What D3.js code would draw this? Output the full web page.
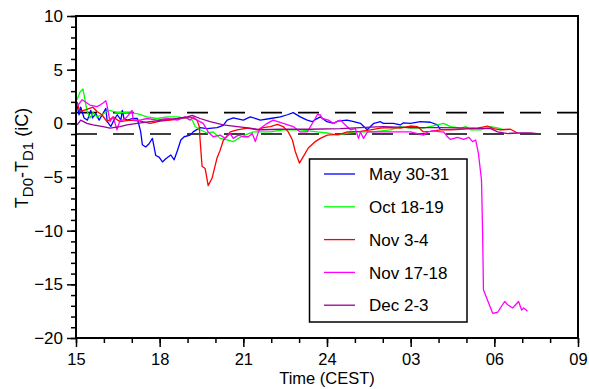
<!DOCTYPE html>
<html>
<head>
<meta charset="utf-8">
<script src="https://cdn.jsdelivr.net/npm/d3@7"></script>
<style>
  body { margin: 0; background: #fff; }
  svg text { font-family: "Liberation Sans", Arial, sans-serif; fill: #000; }
</style>
</head>
<body>
<div id="chart"></div>
<script>
// data: [hour since 00 of day 1 (15..33), T_D0 - T_D1]
const may3031 = [[15.04,1.7],[15.11,0.8],[15.17,1.5],[15.29,0.5],[15.41,0.3],[15.53,1.2],[15.59,0.5],[15.71,0.9],[15.83,0.3],[15.94,0.8],[16.07,1.4],[16.12,0.15],[16.25,-0.3],[16.36,0.3],[16.48,0.8],[16.61,0.3],[16.66,1.2],[16.72,0.45],[16.84,0.3],[17.02,0.45],[17.2,0.45],[17.32,-0.8],[17.38,-2.0],[17.5,-2.2],[17.62,-1.9],[17.74,-1.4],[17.86,-3.0],[17.98,-3.15],[18.1,-3.6],[18.22,-3.3],[18.4,-2.95],[18.52,-3.4],[18.64,-2.5],[18.76,-1.55],[18.88,-1.25],[19.09,-1.1],[19.2,-0.8],[19.45,-0.4],[19.7,-0.5],[20.06,-0.4],[20.28,-0.2],[20.42,0.3],[20.64,0.5],[21.0,0.3],[21.25,0.6],[21.5,0.4],[21.61,0.3],[21.97,0.45],[22.33,0.6],[22.58,0.8],[22.79,1.0],[23.04,0.6],[23.29,0.3],[23.47,0.15],[23.58,0.35],[23.76,0.6],[24.0,0.15],[24.24,0.0],[24.37,0.2],[24.72,0.3],[24.96,0.15],[25.2,0.0],[25.44,-0.6],[25.68,0.0],[25.92,0.15],[26.02,0.0],[26.38,0.0],[26.63,-0.15],[26.74,0.05],[26.99,0.0],[27.35,0.15],[27.71,0.1],[27.96,-0.15],[28.07,-0.6]]
const oct1819 = [[15.04,2.2],[15.14,2.9],[15.25,3.2],[15.39,1.2],[15.5,0.5],[15.61,1.0],[15.75,0.6],[15.93,0.8],[16.11,1.1],[16.22,1.2],[16.47,1.0],[16.83,1.0],[17.19,0.9],[17.55,0.6],[17.91,0.45],[18.27,0.6],[18.63,0.6],[18.99,0.45],[19.17,0.3],[19.27,-0.3],[19.45,-0.6],[19.7,-0.9],[19.92,-0.8],[20.17,-1.4],[20.42,-1.55],[20.64,-1.7],[20.89,-1.3],[21.14,-1.0],[21.36,-0.8],[21.61,-0.8],[21.97,-0.8],[22.43,-0.6],[23.04,-0.6],[23.65,-0.8],[24.01,-0.9],[24.37,-1.1],[24.73,-0.9],[25.09,-0.8],[25.66,-0.8],[26.27,-0.6],[26.63,-0.3],[26.99,-0.45],[27.46,-0.45],[27.96,-0.15],[28.18,0.0],[28.43,-0.3],[28.79,-0.45],[28.97,-0.3],[29.15,-0.6],[29.51,-0.6],[29.87,-0.3],[30.15,-0.45],[30.33,-0.6]]
const nov034 = [[15.04,2.0],[15.14,1.1],[15.39,1.3],[15.61,1.5],[15.75,1.1],[15.93,0.8],[16.11,0.15],[16.33,0.6],[16.58,0.15],[16.94,0.3],[17.3,0.2],[17.66,0.0],[18.02,0.2],[18.38,0.3],[18.73,0.45],[19.09,0.6],[19.34,0.3],[19.42,-0.3],[19.45,-1.55],[19.52,-4.0],[19.63,-4.2],[19.74,-5.8],[19.88,-5.1],[20.06,-3.2],[20.17,-2.5],[20.28,-1.6],[20.53,-0.8],[20.78,-0.6],[21.14,-0.45],[21.5,-0.6],[21.71,-0.4],[21.97,-0.3],[22.22,-0.1],[22.43,-0.3],[22.61,-0.8],[22.76,-1.55],[22.86,-2.6],[23.01,-3.7],[23.15,-3.1],[23.33,-2.3],[23.58,-1.7],[23.76,-1.4],[24.01,-1.1],[24.48,-1.0],[24.73,-0.8],[25.2,-0.75],[25.56,-0.6],[25.92,-0.45],[26.27,-0.4],[26.63,-0.45],[26.99,-0.25],[27.24,-0.3],[27.46,-0.8],[27.71,-0.75],[28.07,-0.6],[28.43,-0.6],[28.79,-0.55],[29.4,-0.45],[29.76,-0.25],[29.97,-0.5],[30.22,-0.6],[30.58,-0.55],[30.83,-0.9]]
const nov1718 = [[15.04,1.55],[15.22,2.2],[15.39,1.9],[15.5,1.7],[15.75,1.55],[15.86,1.7],[15.97,1.9],[16.07,2.1],[16.11,1.7],[16.22,0.15],[16.33,0.6],[16.47,-0.6],[16.58,0.3],[16.69,0.3],[16.83,0.6],[17.01,1.2],[17.05,0.3],[17.3,0.3],[17.55,0.45],[17.91,0.3],[18.27,0.45],[18.63,0.3],[18.91,0.6],[19.09,0.3],[19.2,0.6],[19.34,0.3],[19.56,0.0],[19.74,-0.8],[19.92,-1.25],[20.17,-1.1],[20.35,-1.4],[20.53,-0.95],[20.64,-1.4],[20.82,-1.1],[21.0,-1.25],[21.18,-1.25],[21.32,-0.95],[21.43,-1.7],[21.54,-0.8],[21.61,-0.45],[21.86,0.0],[22.07,0.3],[22.43,0.0],[22.79,-0.3],[23.04,-0.8],[23.29,-0.8],[23.51,0.15],[23.65,0.8],[23.76,0.8],[23.83,0.45],[24.05,0.3],[24.23,0.0],[24.48,0.3],[24.66,-0.15],[24.84,-0.6],[25.02,-0.5],[25.09,-1.1],[25.13,-1.4],[25.2,-0.8],[25.31,-1.4],[25.45,-0.8],[25.81,-0.8],[26.38,-0.8],[26.99,-0.8],[27.46,-1.1],[27.6,-0.8],[27.82,-0.7],[28.07,-0.8],[28.18,-0.8],[28.32,-1.25],[28.43,-1.5],[28.68,-1.3],[28.9,-1.5],[29.08,-1.3],[29.22,-1.7],[29.33,-1.55],[29.43,-2.8],[29.54,-5.3],[29.58,-10.2],[29.61,-15.5],[29.76,-16.5],[29.94,-17.7],[30.12,-17.6],[30.22,-17.2],[30.37,-16.6],[30.48,-16.9],[30.66,-17.2],[30.76,-16.9],[30.87,-16.6],[30.98,-17.4],[31.05,-17.2],[31.19,-17.5]]
const dec023 = [[15.04,-0.15],[15.17,0.3],[15.39,0.0],[15.61,-0.15],[15.97,-0.3],[16.22,-0.45],[16.58,-0.3],[16.83,-0.15],[17.19,0.0],[17.66,0.15],[18.12,0.3],[18.63,0.45],[18.99,0.6],[19.17,0.75],[19.45,0.45],[19.81,0.15],[20.28,-0.15],[20.78,-0.3],[21.25,-0.45],[21.61,-0.6],[22.33,-0.55],[23.4,-0.55],[24.48,-0.5],[25.56,-0.35],[26.02,-0.3],[26.99,-0.4],[28.07,-0.4],[29.15,-0.45],[29.87,-0.5],[30.12,-0.8],[30.48,-0.95],[30.83,-0.9],[31.3,-0.9],[31.55,-0.95]]

const seriesNames = ['May 30-31', 'Oct 18-19', 'Nov 3-4', 'Nov 17-18', 'Dec 2-3']
const seriesData = [may3031, oct1819, nov034, nov1718, dec023]
const seriesColors = ['#0000ff', '#00ff00', '#ff0000', '#ff00ff', '#990099']

const xMajorTicks = [15, 18, 21, 24, 27, 30, 33]
const yMajorTicks = [-20, -15, -10, -5, 0, 5, 10]
const bandLines = [1, -1]

// SIZES
const W = 589, H = 389
const margin = { top: 16, right: 11, bottom: 51, left: 76 }
const width = W - margin.left - margin.right
const height = H - margin.top - margin.bottom

const svg = d3.select('#chart').append('svg')
  .attr('width', W)
  .attr('height', H)

const x = d3.scaleLinear().domain([15, 33]).range([margin.left, margin.left + width])
const y = d3.scaleLinear().domain([-20, 10]).range([margin.top + height, margin.top])

// 24 stays 24, next-day hours are zero padded
const fmtHour = h => {
  const v = h % 24 === 0 ? 24 : h % 24
  return String(v).padStart(2, '0')
}

// MINOR TICKS
svg.append('g')
  .attr('transform', `translate(0,${margin.top + height})`)
  .call(d3.axisBottom(x).tickValues(d3.range(15, 34, 1)).tickSize(5).tickFormat(''))
  .call(g => g.select('.domain').remove())
  .selectAll('line').attr('stroke-width', 1.5)

svg.append('g')
  .attr('transform', `translate(${margin.left},0)`)
  .call(d3.axisLeft(y).tickValues(d3.range(-20, 11, 1)).tickSize(5).tickFormat(''))
  .call(g => g.select('.domain').remove())
  .selectAll('line').attr('stroke-width', 1.5)

// MAJOR TICKS
const xAxis = svg.append('g')
  .attr('transform', `translate(0,${margin.top + height})`)
  .call(d3.axisBottom(x).tickValues(xMajorTicks).tickSize(9).tickPadding(6).tickFormat(fmtHour))
xAxis.select('.domain').remove()
xAxis.selectAll('line').attr('stroke-width', 1.5)
xAxis.selectAll('text').attr('font-size', 16.5).style('font-family', '"Liberation Sans", Arial, sans-serif')

const yAxis = svg.append('g')
  .attr('transform', `translate(${margin.left},0)`)
  .call(d3.axisLeft(y).tickValues(yMajorTicks).tickSize(9).tickPadding(4))
yAxis.select('.domain').remove()
yAxis.selectAll('line').attr('stroke-width', 1.5)
yAxis.selectAll('text').attr('font-size', 17).style('font-family', '"Liberation Sans", Arial, sans-serif')

// DASHED BAND
svg.selectAll('line.band')
  .data(bandLines)
  .join('line')
  .attr('class', 'band')
  .attr('x1', x(15))
  .attr('x2', x(33))
  .attr('y1', d => y(d))
  .attr('y2', d => y(d))
  .attr('stroke', '#000')
  .attr('stroke-width', 1.6)
  .attr('stroke-dasharray', '21,16')

// LINES
const line = d3.line().x(d => x(d[0])).y(d => y(d[1]))
svg.selectAll('path.series')
  .data(seriesData)
  .join('path')
  .attr('class', 'series')
  .attr('d', line)
  .attr('fill', 'none')
  .attr('stroke', (d, i) => seriesColors[i])
  .attr('stroke-width', 1.3)
  .attr('stroke-linejoin', 'round')

// FRAME
svg.append('rect')
  .attr('x', margin.left)
  .attr('y', margin.top)
  .attr('width', width)
  .attr('height', height)
  .attr('fill', 'none')
  .attr('stroke', '#000')
  .attr('stroke-width', 2)

// LEGEND
const legend = svg.append('g')
legend.append('rect')
  .attr('x', 309.5).attr('y', 159)
  .attr('width', 157.5).attr('height', 163)
  .attr('fill', '#fff')
  .attr('stroke', '#000')
  .attr('stroke-width', 1.5)

const row = legend.selectAll('g.row')
  .data(seriesNames)
  .join('g')
  .attr('class', 'row')
  .attr('transform', (d, i) => `translate(0,${174 + i * 32.8})`)
row.append('line')
  .attr('x1', 324).attr('x2', 355)
  .attr('stroke', (d, i) => seriesColors[i])
  .attr('stroke-width', 1.3)
row.append('text')
  .attr('x', 369)
  .attr('dy', '0.36em')
  .attr('font-size', 17)
  .text(d => d)

// AXIS NAMES
svg.append('text')
  .attr('x', margin.left + width / 2)
  .attr('y', 384)
  .attr('text-anchor', 'middle')
  .attr('font-size', 16.5)
  .text('Time (CEST)')

const yName = svg.append('text')
  .attr('transform', 'translate(28,158) rotate(-90)')
  .attr('text-anchor', 'middle')
  .attr('font-size', 18)
yName.append('tspan').text('T')
yName.append('tspan').attr('dy', 5).attr('font-size', 15).text('D0')
yName.append('tspan').attr('dy', -5).text('-T')
yName.append('tspan').attr('dy', 5).attr('font-size', 15).text('D1')
yName.append('tspan').attr('dy', -5).text(' (iC)')
</script>
</body>
</html>
